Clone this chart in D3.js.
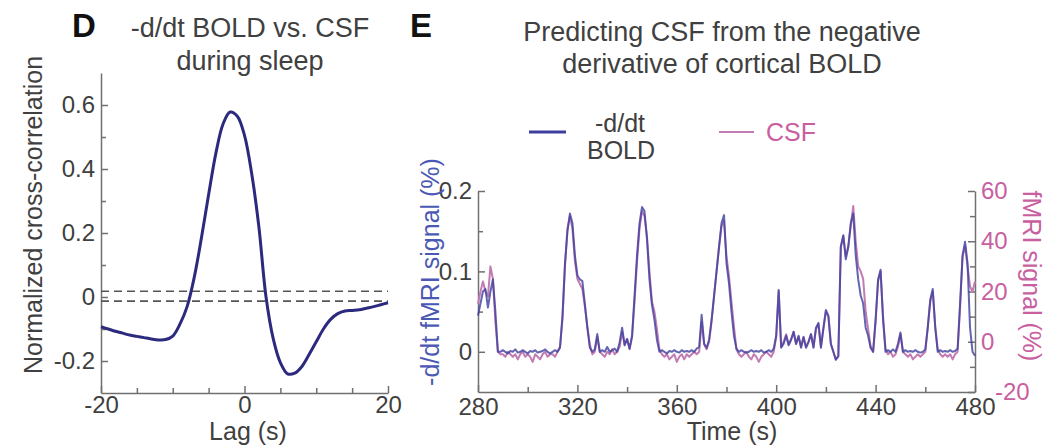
<!DOCTYPE html>
<meta charset="utf-8">
<style>
  body { margin: 0; background: #fff; }
  svg text {
    font-family: "Liberation Sans", Arial, Helvetica, sans-serif;
    fill: #404040;
  }
  .axis path, .axis line {
    stroke: #707070;
    stroke-width: 1.5;
  }
  .axis text { font-size: 24px; fill: #404040; }
  .right-axis text { fill: #c8609f; }
  .title { font-size: 27px; text-anchor: middle; }
  .label { font-size: 25px; text-anchor: middle; }
  .panel { font-size: 33px; font-weight: bold; fill: #111; }
</style>

<svg class="chart" width="1063" height="446"></svg>

<script src="https://d3js.org/d3.v7.min.js"></script>

<script>

  // ---- panel D : cross-correlation ----
  var lags = [-20, -19, -18, -17, -16, -15, -14, -13, -12, -11, -10, -9, -8, -7, -6, -5, -4, -3, -2, -1,
              0, 1, 2, 3, 4, 5, 6, 7, 8, 9, 10, 11, 12, 13, 14, 15, 16, 17, 18, 19, 20];
  var xcorr = [-0.093, -0.100, -0.107, -0.113, -0.119, -0.123, -0.127, -0.131, -0.134, -0.133,
               -0.122, -0.085, -0.030, 0.062, 0.185, 0.320, 0.448, 0.540, 0.578, 0.565,
               0.505, 0.386, 0.220, 0.000, -0.130, -0.205, -0.240, -0.238, -0.217, -0.180,
               -0.140, -0.100, -0.070, -0.052, -0.044, -0.042, -0.040, -0.035, -0.030, -0.024, -0.018];
  var sigBounds = [0.018, -0.013];
  var dTicksX = [-20, 0, 20];
  var dTickLabelsX = ["-20", "0", "20"];
  var dMinorX = [-15, -10, -5, 5, 10, 15];
  var dTicksY = [-0.2, 0, 0.2, 0.4, 0.6];
  var dTickLabelsY = ["-0.2", "0", "0.2", "0.4", "0.6"];
  var dMinorY = [-0.1, 0.1, 0.3, 0.5];

  // ---- panel E : time courses ----
  var times = d3.range(280, 481);
  var bold = [
    0.045, 0.06, 0.075, 0.078, 0.055, 0.075, 0.09, 0.05, 0.0, 0.0,
    0.002, 0.0, -0.002, 0.001, 0.0, 0.003, -0.001, 0.0, 0.002, 0.0,
    -0.002, 0.001, 0.0, 0.002, -0.001, 0.0, 0.001, 0.003, 0.0, -0.002,
    0.0, 0.002, 0.0, 0.005, 0.045, 0.11, 0.15, 0.172, 0.16, 0.12,
    0.095, 0.09, 0.088, 0.06, 0.03, 0.005, 0.0, 0.003, 0.022, 0.0,
    0.002, 0.0, 0.006, 0.0, 0.002, 0.004, 0.0, 0.012, 0.03, 0.008,
    0.016, 0.004, 0.02, 0.07, 0.12, 0.16, 0.18, 0.175, 0.14, 0.09,
    0.058, 0.04, 0.015, 0.0, 0.002, 0.0, -0.002, 0.001, 0.0, 0.002,
    0.0, -0.001, 0.002, 0.0, 0.001, 0.0, 0.002, 0.0, 0.004, 0.006,
    0.046, 0.01, 0.005, 0.015, 0.04, 0.07, 0.1, 0.13, 0.16, 0.17,
    0.11, 0.085, 0.05, 0.02, 0.004, 0.0, 0.002, 0.0, -0.001, 0.0,
    0.002, 0.0, 0.001, 0.0, 0.002, -0.001, 0.0, 0.002, 0.0, 0.004,
    0.02, 0.077, 0.005, 0.01, 0.02, 0.008, 0.015, 0.025, 0.01, 0.02,
    0.005, 0.018, 0.005, 0.012, 0.022, 0.005, 0.03, 0.036, 0.005, 0.03,
    0.052, 0.045, 0.01, 0.0, -0.01, -0.005, 0.13, 0.145, 0.115, 0.13,
    0.16, 0.172, 0.12, 0.09, 0.07, 0.06, 0.03, 0.02, 0.005, 0.0,
    0.04, 0.09, 0.102, 0.04, 0.0, 0.002, 0.0, 0.003, 0.0, 0.01,
    0.024, 0.0, 0.002, 0.0, 0.001, 0.0, 0.002, 0.0, -0.001, 0.0,
    0.003, 0.03, 0.065, 0.078, 0.03, 0.0, 0.002, 0.0, 0.001, 0.0,
    0.002, 0.0, 0.001, 0.004, 0.06, 0.12, 0.137, 0.11, 0.03, 0.0,
    -0.005
  ];
  var csf = [
    15, 20, 24, 20, 18, 30, 25, 8, -4, -5,
    -5, -6, -4, -5, -6, -5, -7, -5, -4, -6,
    -5, -6, -8, -5, -6, -7, -5, -4, -6, -5,
    -5, -6, -4, -2, 9, 30, 45, 50, 45, 32,
    25, 23, 21, 14, 6, -1, -5, -4, 2, -4,
    -5, -6, -4, -5, -3, -5, -4, -2, 4, -1,
    1, -3, 2, 16, 32, 45, 52, 50, 42, 28,
    16, 12, 5, -3, -5, -6, -5, -7, -6, -5,
    -8, -6, -5, -7, -5, -6, -5, -4, -5, -4,
    8, -1, -3, 0, 8, 18, 28, 38, 46, 48,
    34, 26, 16, 6, -3, -5, -6, -5, -4, -6,
    -7, -5, -6, -8, -6, -5, -4, -5, -6, -4,
    2, 20, -2, 0, 3, -1, 1, 4, -1, 2,
    -2, 2, -2, 0, 3, -2, 5, 7, -2, 5,
    12, 10, -1, -4, -7, -6, 38, 42, 34, 38,
    46, 54, 40, 30, 28, 25, 12, 5, -2, -4,
    8, 24, 28, 10, -3, -5, -4, -6, -5, -2,
    3, -4, -5, -6, -5, -7, -6, -5, -6, -5,
    -4, 6, 16, 20, 6, -3, -5, -6, -5, -6,
    -5, -7, -5, -4, 14, 34, 38, 30, 22, 20,
    24
  ];
  var eTicksX = [280, 320, 360, 400, 440, 480];
  var eMinorX = [300, 340, 380, 420, 460];
  var eTicksL = [0, 0.1, 0.2];
  var eTickLabelsL = ["0", "0.1", "0.2"];
  var eMinorL = [0.05, 0.15];
  var eTicksR = [-20, 0, 20, 40, 60];
  var eMinorR = [-10, 10, 30, 50];

  var boldColor = "#3d3f9e",
      csfColor = "#c27cb3",
      csfText = "#c8609f",
      boldText = "#4b58b4";

  var svg = d3.select(".chart");

  // ================= panel D =================
  var xD = d3.scaleLinear().domain([-20, 20]).range([101, 388]);
  var yD = d3.scaleLinear().domain([-0.3, 0.7]).range([393, 73]);

  svg.append("g")
      .attr("class", "axis")
      .attr("transform", "translate(0,393)")
      .call(d3.axisBottom(xD).tickValues(dTicksX)
        .tickFormat(function (d, i) { return dTickLabelsX[i]; })
        .tickSizeInner(-7).tickSizeOuter(0).tickPadding(3));
  svg.append("g")
      .attr("class", "axis")
      .attr("transform", "translate(0,393)")
      .call(d3.axisBottom(xD).tickValues(dMinorX).tickFormat("")
        .tickSizeInner(-5).tickSizeOuter(0))
      .select(".domain").remove();

  svg.append("g")
      .attr("class", "axis")
      .attr("transform", "translate(101,0)")
      .call(d3.axisLeft(yD).tickValues(dTicksY)
        .tickFormat(function (d, i) { return dTickLabelsY[i]; })
        .tickSizeInner(-7).tickSizeOuter(0).tickPadding(6));
  svg.append("g")
      .attr("class", "axis")
      .attr("transform", "translate(101,0)")
      .call(d3.axisLeft(yD).tickValues(dMinorY).tickFormat("")
        .tickSizeInner(-5).tickSizeOuter(0))
      .select(".domain").remove();

  svg.append("g")
    .selectAll("line")
    .data(sigBounds)
    .enter().append("line")
      .attr("x1", xD(-20))
      .attr("x2", xD(20))
      .attr("y1", function (d) { return yD(d); })
      .attr("y2", function (d) { return yD(d); })
      .attr("stroke", "#555")
      .attr("stroke-width", 1.6)
      .attr("stroke-dasharray", "8,5");

  var lineD = d3.line()
      .x(function (d, i) { return xD(lags[i]); })
      .y(function (d) { return yD(d); })
      .curve(d3.curveCatmullRom);

  svg.append("path")
      .datum(xcorr)
      .attr("fill", "none")
      .attr("stroke", "#2b2a7e")
      .attr("stroke-width", 3)
      .attr("d", lineD);

  svg.append("text").attr("class", "panel").attr("x", 72).attr("y", 37).text("D");
  svg.append("text").attr("class", "title").attr("x", 250).attr("y", 37).text("-d/dt BOLD vs. CSF");
  svg.append("text").attr("class", "title").attr("x", 250).attr("y", 70).text("during sleep");
  svg.append("text").attr("class", "label").attr("x", 248).attr("y", 440).text("Lag (s)");
  svg.append("text").attr("class", "label")
      .attr("transform", "translate(33,215) rotate(-90)")
      .attr("dy", "0.35em")
      .text("Normalized cross-correlation");

  // ================= panel E =================
  var xE = d3.scaleLinear().domain([280, 480]).range([478, 975]);
  var yL = d3.scaleLinear().domain([-0.05, 0.2]).range([392, 191]);
  var yR = d3.scaleLinear().domain([-20, 60]).range([392, 191]);

  svg.append("g")
      .attr("class", "axis")
      .attr("transform", "translate(0,392)")
      .call(d3.axisBottom(xE).tickValues(eTicksX).tickFormat(d3.format("d"))
        .tickSizeInner(-7).tickSizeOuter(0).tickPadding(6));
  svg.append("g")
      .attr("class", "axis")
      .attr("transform", "translate(0,392)")
      .call(d3.axisBottom(xE).tickValues(eMinorX).tickFormat("")
        .tickSizeInner(-5).tickSizeOuter(0))
      .select(".domain").remove();

  svg.append("g")
      .attr("class", "axis")
      .attr("transform", "translate(478,0)")
      .call(d3.axisLeft(yL).tickValues(eTicksL)
        .tickFormat(function (d, i) { return eTickLabelsL[i]; })
        .tickSizeInner(-7).tickSizeOuter(0).tickPadding(6));
  svg.append("g")
      .attr("class", "axis")
      .attr("transform", "translate(478,0)")
      .call(d3.axisLeft(yL).tickValues(eMinorL).tickFormat("")
        .tickSizeInner(-5).tickSizeOuter(0))
      .select(".domain").remove();

  var rightAxis = svg.append("g")
      .attr("class", "axis right-axis")
      .attr("transform", "translate(975,0)")
      .call(d3.axisRight(yR).tickValues(eTicksR).tickFormat(d3.format("d"))
        .tickSizeInner(-7).tickSizeOuter(0).tickPadding(6));
  // bottom label sits just right of the "480" time label, as in the figure
  rightAxis.selectAll(".tick text")
      .filter(function (d) { return d === -20; })
      .attr("dx", 14)
      .text("-20");
  svg.append("g")
      .attr("class", "axis")
      .attr("transform", "translate(975,0)")
      .call(d3.axisRight(yR).tickValues(eMinorR).tickFormat("")
        .tickSizeInner(-5).tickSizeOuter(0))
      .select(".domain").remove();

  var lineCsf = d3.line()
      .x(function (d, i) { return xE(times[i]); })
      .y(function (d) { return yR(d); });
  var lineBold = d3.line()
      .x(function (d, i) { return xE(times[i]); })
      .y(function (d) { return yL(d); });

  svg.append("path")
      .datum(csf)
      .attr("fill", "none")
      .attr("stroke", csfColor)
      .attr("stroke-width", 2)
      .attr("stroke-linejoin", "round")
      .attr("d", lineCsf);
  svg.append("path")
      .datum(bold)
      .attr("fill", "none")
      .attr("stroke", boldColor)
      .attr("stroke-opacity", 0.8)
      .attr("stroke-width", 2)
      .attr("stroke-linejoin", "round")
      .attr("d", lineBold);

  svg.append("text").attr("class", "panel").attr("x", 410).attr("y", 37).text("E");
  svg.append("text").attr("class", "title").attr("x", 722).attr("y", 41).text("Predicting CSF from the negative");
  svg.append("text").attr("class", "title").attr("x", 722).attr("y", 73).text("derivative of cortical BOLD");
  svg.append("text").attr("class", "label").attr("x", 732).attr("y", 440).text("Time (s)");

  svg.append("text").attr("class", "label")
      .attr("transform", "translate(430,272) rotate(-90)")
      .attr("dy", "0.35em")
      .style("fill", boldText)
      .text("-d/dt fMRI signal (%)");
  svg.append("text").attr("class", "label")
      .attr("transform", "translate(1032,276) rotate(90)")
      .attr("dy", "0.35em")
      .style("fill", csfText)
      .text("fMRI signal (%)");

  // legend
  var legend = svg.append("g").attr("class", "legend");
  legend.append("line")
      .attr("x1", 529).attr("x2", 566).attr("y1", 132).attr("y2", 132)
      .attr("stroke", boldColor).attr("stroke-width", 3);
  legend.append("text").attr("class", "label").attr("x", 620).attr("y", 132).text("-d/dt");
  legend.append("text").attr("class", "label").attr("x", 621).attr("y", 159).text("BOLD");
  legend.append("line")
      .attr("x1", 719).attr("x2", 754).attr("y1", 132).attr("y2", 132)
      .attr("stroke", csfColor).attr("stroke-width", 2);
  legend.append("text").attr("class", "label").attr("x", 766).attr("y", 141)
      .style("text-anchor", "start").style("fill", csfText).text("CSF");

</script>
